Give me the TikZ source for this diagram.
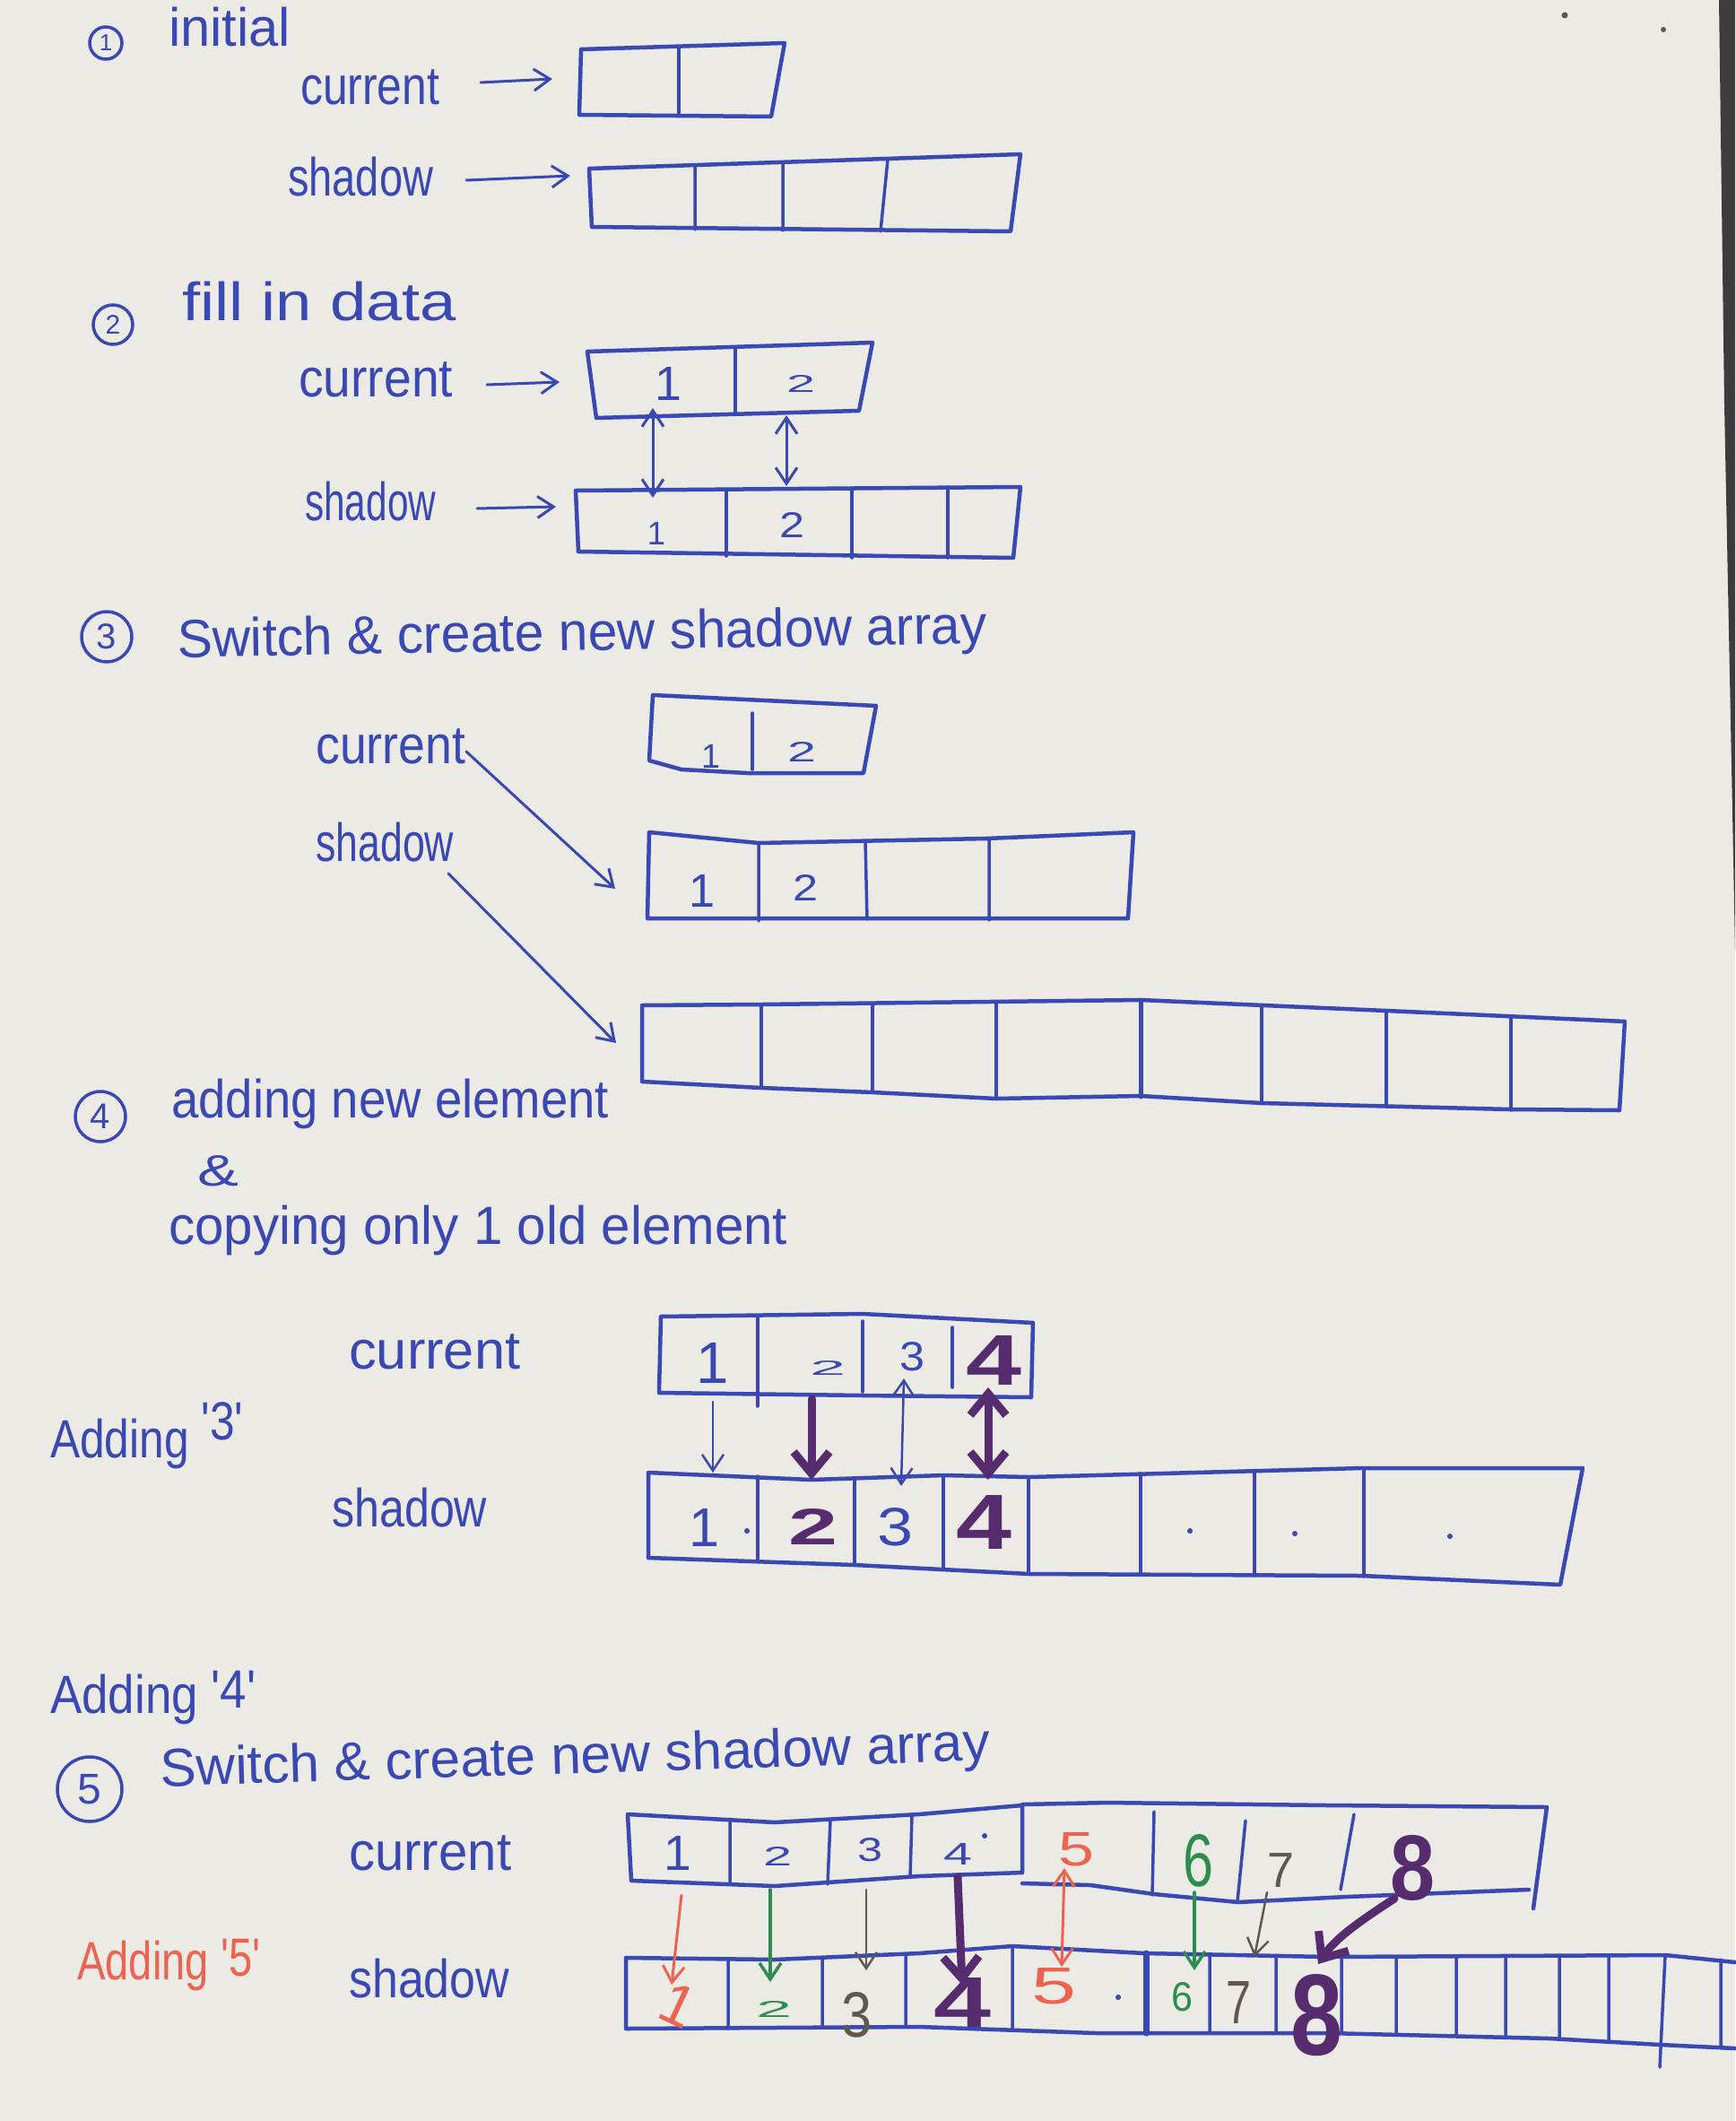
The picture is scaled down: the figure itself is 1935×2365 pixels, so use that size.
\documentclass[tikz,border=0pt]{standalone}
\usepackage{fontspec}
\setmainfont{Liberation Sans}
\usetikzlibrary{arrows.meta}
\definecolor{paper}{RGB}{236,234,229}
\definecolor{ink}{RGB}{58,72,178}
\definecolor{purp}{RGB}{86,44,110}
\definecolor{redink}{RGB}{236,100,80}
\definecolor{greenink}{RGB}{46,140,78}
\definecolor{greyink}{RGB}{96,88,80}
\definecolor{strip}{RGB}{60,60,60}
\newcommand\hw[2]{\resizebox{#1pt}{\height}{#2}}
\newcommand\dg[3]{\resizebox{#1pt}{#2pt}{#3}}
\newcommand\one[1]{\resizebox{!}{#1pt}{1}}
\newcommand\fs[1]{\fontsize{#1}{#1}\selectfont}
\newcommand\qm{\textquotesingle}
\tikzset{
  thinbarb/.tip={Straight Barb[length=18pt,width=24pt]},
  fatbarb/.tip={Straight Barb[length=24pt,width=40pt]},
  lbl/.style={anchor=base west, inner sep=0pt, text=ink, font=\fs{60}},
  cellnum/.style={inner sep=0pt, text=ink, font=\fs{50}},
  bnum/.style={inner sep=0pt, text=purp, font={\fs{50}\bfseries}},
  arrbox/.style={draw=ink, line width=4.5pt, line join=round, line cap=round},
  divl/.style={draw=ink, line width=3.5pt, line cap=round},
  cnum/.style={circle, draw=ink, line width=3.5pt, inner sep=0pt, text=ink},
  arr/.style={draw=ink, line width=3pt, line cap=round, -thinbarb},
  darr/.style={draw=ink, line width=3pt, line cap=round, thinbarb-thinbarb},
  parr/.style={draw=purp, line width=9pt, line cap=round, -fatbarb},
  pdarr/.style={draw=purp, line width=9pt, fatbarb-fatbarb},
  rarr/.style={draw=redink, line width=3pt, line cap=round, -thinbarb},
  rdarr/.style={draw=redink, line width=3pt, line cap=round, thinbarb-thinbarb},
  garr/.style={draw=greenink, line width=3.5pt, line cap=round, -thinbarb},
  yarr/.style={draw=greyink, line width=2.5pt, line cap=round, -thinbarb},
  pdot/.style={fill=ink},
}
\begin{document}
\begin{tikzpicture}[x=1pt,y=-1pt]
\useasboundingbox (0,0) rectangle (1935,2365);
\fill[paper] (0,0) rectangle (1935,2365);
\fill[strip] (1917,0) -- (1935,0) -- (1935,1060) -- (1932,905) -- (1923,452) -- cycle;
\fill[greyink] (1745,17) circle (3.5pt) (1855,33) circle (3pt);

% ---------- step 1
\node[cnum, minimum size=36pt, font=\fs{26}] (c1) at (118,48) {1};
\node[lbl] (t1) at (188,52) {\hw{136}{initial}};
\node[lbl] (cur1) at (335,117) {\hw{155}{current}};
\node[lbl] (sh1) at (321,219) {\hw{162}{shadow}};
\draw[arrbox] (648,55) -- (875,48) -- (860,130) -- (646,128) -- cycle;
\draw[divl] (757,52) -- (757,129);
\draw[arrbox] (657,188) -- (1138,172) -- (1127,258) -- (660,253) -- cycle;
\draw[divl] (775,186) -- (775,256) (873,183) -- (873,257) (990,178) -- (982,258);
\coordinate (cur1t) at (536,92); \coordinate (A1in) at (616,88);
\coordinate (sh1t) at (520,201); \coordinate (A2in) at (636,196);
\draw[arr] (cur1t) -- (A1in);
\draw[arr] (sh1t) -- (A2in);

% ---------- step 2
\node[cnum, minimum size=44pt, font=\fs{30}] (c2) at (126,362) {2};
\node[lbl] (t2) at (203,357) {\hw{306}{fill in data}};
\node[lbl] (cur2) at (333,442) {\hw{172}{current}};
\node[lbl] (sh2) at (340,580) {\hw{146}{shadow}};
\draw[arrbox] (655,392) -- (973,382) -- (958,458) -- (665,466) -- cycle;
\draw[divl] (820,387) -- (820,462);
\draw[arrbox] (642,547) -- (1138,543) -- (1130,622) -- (645,615) -- cycle;
\draw[divl] (810,546) -- (810,620) (950,544) -- (950,622) (1057,543) -- (1057,622);
\node[cellnum] (n21) at (745,428) {\one{37}};
\node[cellnum] (n22) at (893,428) {\dg{32}{19}{2}};
\node[cellnum] (n23) at (732,595) {\one{25}};
\node[cellnum] (n24) at (883,585) {\dg{28}{28}{2}};
\coordinate (cur2t) at (543,429); \coordinate (A3in) at (624,426);
\coordinate (sh2t) at (532,567); \coordinate (A4in) at (620,565);
\draw[arr] (cur2t) -- (A3in);
\draw[arr] (sh2t) -- (A4in);
\coordinate (u21) at (728,455); \coordinate (d21) at (728,555);
\coordinate (u22) at (877,463); \coordinate (d22) at (877,542);
\draw[darr] (u21) -- (d21);
\draw[darr] (u22) -- (d22);

% ---------- step 3
\node[cnum, minimum size=56pt, font=\fs{40}] (c3) at (119,710) {3};
\node[lbl, rotate=1] (t3) at (198,733) {\hw{903}{Switch \& create new shadow array}};
\node[lbl] (cur3) at (352,851) {\hw{167}{current}};
\node[lbl] (sh3) at (352,960) {\hw{154}{shadow}};
\draw[arrbox] (728,775) -- (977,787) -- (963,862) -- (833,862) -- (760,858) -- (724,848) -- cycle;
\draw[divl] (839,795) -- (839,858);
\draw[arrbox] (724,928) -- (846,940) -- (1100,935) -- (1264,928) -- (1258,1024) -- (722,1024) -- cycle;
\draw[divl] (846,940) -- (846,1027) (965,938) -- (967,1025) (1103,935) -- (1103,1026);
\draw[arrbox] (716,1121) -- (849,1120) -- (1272,1115) -- (1546,1127) -- (1812,1139) -- (1806,1238)
  -- (1685,1237) -- (1407,1230) -- (1272,1222) -- (1111,1225) -- (973,1218) -- (849,1213) -- (716,1206) -- cycle;
\draw[divl] (849,1120) -- (849,1212) (973,1119) -- (973,1218) (1111,1117) -- (1111,1225)
  (1407,1121) -- (1407,1230) (1546,1127) -- (1546,1234) (1685,1133) -- (1685,1238);
\draw[divl, line width=5pt] (1272,1115) -- (1272,1223);
\node[cellnum] (n31) at (793,843) {\one{26}};
\node[cellnum] (n32) at (894,838) {\dg{32}{22}{2}};
\node[cellnum] (n33) at (783,993) {\one{36}};
\node[cellnum] (n34) at (898,990) {\dg{28}{29}{2}};
\coordinate (cur3t) at (520,838); \coordinate (B3in) at (686,991);
\coordinate (sh3t) at (500,974); \coordinate (C3in) at (687,1163);
\draw[arr] (cur3t) -- (B3in);
\draw[arr] (sh3t) -- (C3in);

% ---------- step 4
\node[cnum, minimum size=56pt, font=\fs{40}] (c4) at (112,1245) {4};
\node[lbl] (t4) at (191,1246) {\hw{488}{adding new element}};
\node[lbl] (amp4) at (220,1322) {\dg{46}{34}{\&}};
\node[lbl] (t4b) at (188,1387) {\hw{690}{copying only 1 old element}};
\node[lbl] (cur4) at (389,1526) {\hw{191}{current}};
\node[lbl] (add3) at (56,1625) {\hw{215}{Adding \raisebox{20pt}{\qm3\qm}}};
\node[lbl] (sh4) at (370,1702) {\hw{173}{shadow}};
\draw[arrbox] (737,1468) -- (962,1465) -- (1152,1475) -- (1150,1558) -- (962,1556) -- (735,1553) -- cycle;
\draw[divl] (845,1468) -- (845,1568) (962,1473) -- (962,1552) (1062,1480) -- (1062,1547);
\draw[arrbox] (723,1642) -- (905,1650) -- (1052,1645) -- (1148,1647) -- (1518,1637) -- (1765,1637) -- (1740,1767)
  -- (1518,1757) -- (1148,1755) -- (953,1745) -- (723,1737) -- cycle;
\draw[divl] (845,1646) -- (845,1740) (953,1649) -- (953,1745) (1052,1646) -- (1052,1750) (1147,1647) -- (1147,1755)
  (1272,1643) -- (1272,1756) (1399,1640) -- (1399,1757) (1521,1637) -- (1521,1758);
\fill[pdot] (833,1707) circle (3pt) (1327,1707) circle (3pt) (1444,1710) circle (3pt) (1617,1713) circle (3pt);
\node[cellnum] (n41) at (795,1520) {\one{45}};
\node[cellnum] (n42) at (923,1525) {\dg{40}{16}{2}};
\node[cellnum] (n43) at (1017,1513) {\dg{28}{32}{3}};
\node[bnum] (n44) at (1108,1517) {\dg{62}{55}{4}};
\node[cellnum] (n45) at (785,1703) {\one{42}};
\node[bnum] (n46) at (907,1702) {\dg{55}{40}{2}};
\node[cellnum] (n47) at (998,1703) {\dg{40}{42}{3}};
\node[bnum] (n48) at (1097,1697) {\dg{62}{60}{4}};
\coordinate (a41) at (795,1563); \coordinate (b41) at (795,1642);
\coordinate (a42) at (905,1560); \coordinate (b42) at (905,1650);
\coordinate (a43) at (1008,1537); \coordinate (b43) at (1005,1657);
\coordinate (a44) at (1102,1547); \coordinate (b44) at (1102,1650);
\draw[arr, line width=2.5pt] (a41) -- (b41);
\draw[parr] (a42) -- (b42);
\draw[darr, line width=2.5pt] (a43) -- (b43);
\draw[pdarr] (a44) -- (b44);

% ---------- step 5
\node[lbl] (add4) at (56,1910) {\hw{229}{Adding \raisebox{6pt}{\qm4\qm}}};
\node[cnum, minimum size=72pt, font=\fs{48}] (c5) at (100,1995) {5};
\node[lbl, rotate=1.8] (t5) at (179,1992) {\hw{926}{Switch \& create new shadow array}};
\node[lbl] (cur5) at (389,2085) {\hw{181}{current}};
\node[lbl, text=redink] (add5) at (86,2207) {\hw{204}{Adding \raisebox{4pt}{\qm5\qm}}};
\node[lbl] (sh5) at (389,2227) {\hw{179}{shadow}};
\draw[arrbox] (1140,2013) -- (1025,2023) -- (864,2032) -- (700,2023) -- (704,2097) -- (864,2103) -- (1025,2092) -- (1140,2088) -- cycle;
\draw[arrbox] (1140,2012) -- (1235,2010) -- (1481,2013) -- (1725,2015) -- (1710,2128);
\draw[arrbox] (1140,2100) -- (1216,2102) -- (1287,2112) -- (1381,2121) -- (1502,2115) -- (1705,2107);
\draw[divl] (814,2028) -- (814,2100) (926,2030) -- (923,2101) (1017,2024) -- (1015,2093)
  (1287,2020) -- (1285,2113) (1389,2030) -- (1380,2120) (1510,2023) -- (1495,2107);
\draw[arrbox] (1935,2188) -- (1857,2180) -- (1481,2182) -- (1277,2178) -- (1129,2170) -- (1025,2178) -- (864,2185) -- (698,2183)
  -- (698,2262) -- (1025,2260) -- (1222,2267) -- (1481,2267) -- (1728,2273) -- (1852,2280) -- (1935,2284);
\draw[divl] (812,2184) -- (812,2262) (917,2183) -- (917,2261) (1010,2179) -- (1010,2260) (1129,2170) -- (1129,2264)
  (1349,2179) -- (1349,2267) (1423,2180) -- (1423,2267) (1496,2181) -- (1496,2267) (1557,2181) -- (1557,2268)
  (1624,2181) -- (1624,2270) (1679,2181) -- (1679,2271) (1739,2181) -- (1739,2273) (1794,2181) -- (1794,2276)
  (1857,2180) -- (1851,2305) (1919,2185) -- (1919,2283);
\draw[divl, line width=7pt] (1278,2178) -- (1278,2267);
\fill[pdot] (1098,2047) circle (3pt) (1247,2227) circle (3pt);
\node[cellnum] (n51) at (756,2066) {\one{38}};
\node[cellnum] (n52) at (867,2070) {\dg{32}{21}{2}};
\node[cellnum] (n53) at (970,2063) {\dg{28}{26}{3}};
\node[cellnum] (n54) at (1068,2067) {\dg{32}{24}{4}};
\node[cellnum, text=redink] (n55) at (1200,2062) {\dg{40}{37}{5}};
\node[cellnum, text=greenink] (n56) at (1336,2075) {\dg{34}{58}{6}};
\node[cellnum, text=greyink] (n57) at (1428,2085) {\dg{30}{38}{7}};
\node[bnum] (n58) at (1575,2083) {\dg{50}{72}{8}};
\node[cellnum, text=redink, rotate=-25] (m51) at (756,2236) {\one{45}};
\node[cellnum, text=greenink] (m52) at (863,2240) {\dg{40}{18}{2}};
\node[cellnum, text=greyink] (m53) at (955,2247) {\dg{34}{50}{3}};
\node[bnum] (m54) at (1073,2233) {\dg{64}{55}{4}};
\node[cellnum, text=redink] (m55) at (1175,2215) {\dg{50}{40}{5}};
\node[cellnum, text=greenink] (m56) at (1318,2227) {\dg{24}{32}{6}};
\node[cellnum, text=greyink] (m57) at (1381,2233) {\dg{28}{47}{7}};
\node[bnum] (m58) at (1468,2247) {\dg{58}{90}{8}};
\coordinate (a51) at (760,2113); \coordinate (b51) at (749,2213);
\coordinate (a52) at (859,2107); \coordinate (b52) at (859,2210);
\coordinate (a53) at (966,2107); \coordinate (b53) at (966,2197);
\coordinate (a54) at (1068,2093); \coordinate (b54) at (1073,2213);
\coordinate (a55) at (1187,2083); \coordinate (b55) at (1184,2193);
\coordinate (a56) at (1332,2110); \coordinate (b56) at (1332,2197);
\coordinate (a57) at (1413,2110); \coordinate (b57) at (1399,2182);
\coordinate (a58) at (1555,2117); \coordinate (b58) at (1470,2190);
\draw[rarr] (a51) -- (b51);
\draw[garr] (a52) -- (b52);
\draw[yarr] (a53) -- (b53);
\draw[parr] (a54) -- (b54);
\draw[rdarr] (a55) -- (b55);
\draw[garr] (a56) -- (b56);
\draw[yarr] (a57) -- (b57);
\draw[parr] (a58) .. controls (1520,2140) and (1490,2160) .. (b58);
\end{tikzpicture}
\end{document}
